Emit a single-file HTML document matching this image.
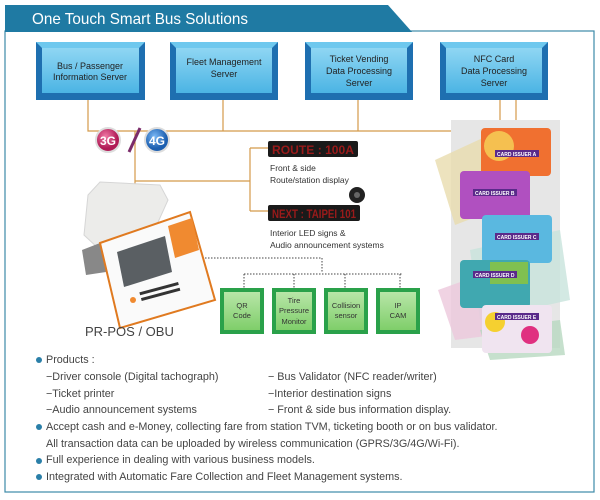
<!DOCTYPE html>
<html><head><meta charset="utf-8"><style>
body{margin:0;width:600px;height:500px;background:#fff;position:relative;overflow:hidden;font-family:"Liberation Sans",sans-serif}
.a{position:absolute}
.bul{position:absolute;left:36px;font-size:10.8px;color:#444;line-height:16.7px;white-space:pre}
</style></head><body>
<svg class="a" style="left:0;top:0" width="600" height="500">
<defs>
<linearGradient id="sb" x1="0" y1="0" x2="0" y2="1"><stop offset="0" stop-color="#8fd6f3"/><stop offset="1" stop-color="#4bb4e4"/></linearGradient>
<linearGradient id="gb" x1="0" y1="0" x2="0" y2="1"><stop offset="0" stop-color="#b8e6a8"/><stop offset="1" stop-color="#7fce6a"/></linearGradient>
<radialGradient id="c3" cx=".4" cy=".35"><stop offset="0" stop-color="#f07aa6"/><stop offset="1" stop-color="#b01a55"/></radialGradient>
<radialGradient id="c4" cx=".4" cy=".35"><stop offset="0" stop-color="#7ab8f5"/><stop offset="1" stop-color="#1d5fb0"/></radialGradient>
</defs>
<rect x="5" y="31" width="589" height="461" fill="none" stroke="#3d8aa8" stroke-width="1.2"/>
<polygon points="5,5 388,5 412,32 5,32" fill="#1f7aa3"/>
<text x="32" y="24" font-size="16" fill="#fff" font-family="Liberation Sans,sans-serif" textLength="216" lengthAdjust="spacingAndGlyphs">One Touch Smart Bus Solutions</text>
<g>
<rect x="36" y="42" width="109" height="58" fill="#1e6fb0"/><polygon points="36,42 145,42 139,48 42,48" fill="#6ec8ee"/><rect x="42" y="48" width="97" height="45" fill="url(#sb)"/>
<rect x="170" y="42" width="108" height="58" fill="#1e6fb0"/><polygon points="170,42 278,42 272,48 176,48" fill="#6ec8ee"/><rect x="176" y="48" width="96" height="45" fill="url(#sb)"/>
<rect x="305" y="42" width="108" height="58" fill="#1e6fb0"/><polygon points="305,42 413,42 407,48 311,48" fill="#6ec8ee"/><rect x="311" y="48" width="96" height="45" fill="url(#sb)"/>
<rect x="440" y="42" width="108" height="58" fill="#1e6fb0"/><polygon points="440,42 548,42 542,48 446,48" fill="#6ec8ee"/><rect x="446" y="48" width="96" height="45" fill="url(#sb)"/>
</g>
<g font-size="9" fill="#222" text-anchor="middle" font-family="Liberation Sans,sans-serif">
<text x="90" y="69">Bus / Passenger</text><text x="90" y="80">Information Server</text>
<text x="224" y="65">Fleet Management</text><text x="224" y="77">Server</text>
<text x="359" y="62">Ticket Vending</text><text x="359" y="74">Data Processing</text><text x="359" y="86">Server</text>
<text x="494" y="62">NFC Card</text><text x="494" y="74">Data Processing</text><text x="494" y="86">Server</text>
</g>
<g stroke="#d49a4a" stroke-width="1.2" fill="none">
<path d="M88,100V131H500V100M223,100V131M358,100V131"/>
<path d="M135,131V190"/>
<path d="M135,181H250M250,148V211M250,148H268M250,211H268"/>
<path d="M516,100V135"/>
</g>
<circle cx="108" cy="140" r="12" fill="url(#c3)" stroke="#ddd" stroke-width="2"/>
<text x="108" y="145" font-size="12" font-weight="bold" fill="#fff" text-anchor="middle">3G</text>
<path d="M129,152L140,128" stroke="#7b2c6a" stroke-width="3"/>
<circle cx="157" cy="140" r="12" fill="url(#c4)" stroke="#ddd" stroke-width="2"/>
<text x="157" y="145" font-size="12" font-weight="bold" fill="#fff" text-anchor="middle">4G</text>
<rect x="268" y="141" width="90" height="16" rx="2" fill="#1a1a1a"/>
<text x="272" y="154" font-size="12" font-weight="bold" fill="#9a1a1a" textLength="82" lengthAdjust="spacingAndGlyphs">ROUTE : 100A</text>
<rect x="268" y="205" width="92" height="16" rx="2" fill="#1a1a1a"/>
<text x="272" y="218" font-size="12" font-weight="bold" fill="#9a1a1a" textLength="84" lengthAdjust="spacingAndGlyphs">NEXT : TAIPEI 101</text>
<circle cx="357" cy="195" r="8" fill="#222"/><circle cx="357" cy="195" r="3" fill="#666"/>
<g font-size="8.5" fill="#333"><text x="270" y="171">Front &amp; side</text><text x="270" y="183">Route/station display</text>
<text x="270" y="236">Interior LED signs &amp;</text><text x="270" y="248">Audio announcement systems</text></g>
<!-- POS -->
<polygon points="88,195 100,182 160,185 168,200 150,240 100,250 84,235" fill="#ececea" stroke="#d6d6d6"/>
<polygon points="82,250 100,243 106,272 86,275" fill="#888"/>
<polygon points="100,243 190,212 215,300 120,328" fill="#fafafa" stroke="#e07a20" stroke-width="2"/>
<polygon points="117,252 165,236 172,272 124,287" fill="#5a5f63"/>
<polygon points="168,226 192,218 199,250 175,258" fill="#f08a30"/>
<circle cx="133" cy="300" r="3" fill="#f08a30"/>
<g fill="#333" transform="rotate(-15 160 292)"><rect x="140" y="287" width="40" height="3"/><rect x="140" y="293" width="40" height="3"/></g>
<text x="85" y="336" font-size="13" fill="#444">PR-POS / OBU</text>
<g stroke="#444" stroke-width="1" stroke-dasharray="1.5,1.5" fill="none">
<path d="M205,258H322V272M244,274H402M244,274V288M294,274V288M345,274V288M400,274V288"/>
</g>
<g>
<rect x="220" y="288" width="44" height="46" fill="#2aa14a"/><rect x="224" y="292" width="36" height="38" fill="url(#gb)"/>
<rect x="272" y="288" width="44" height="46" fill="#2aa14a"/><rect x="276" y="292" width="36" height="38" fill="url(#gb)"/>
<rect x="324" y="288" width="44" height="46" fill="#2aa14a"/><rect x="328" y="292" width="36" height="38" fill="url(#gb)"/>
<rect x="376" y="288" width="44" height="46" fill="#2aa14a"/><rect x="380" y="292" width="36" height="38" fill="url(#gb)"/>
</g>
<g font-size="7.5" fill="#333" text-anchor="middle">
<text x="242" y="308">QR</text><text x="242" y="318">Code</text>
<text x="294" y="303">Tire</text><text x="294" y="313">Pressure</text><text x="294" y="324">Monitor</text>
<text x="346" y="308">Collision</text><text x="346" y="318">sensor</text>
<text x="398" y="308">IP</text><text x="398" y="318">CAM</text>
</g>
<rect x="451" y="120" width="109" height="228" fill="#e6e6e6"/>
<polygon points="435,160 500,130 520,200 455,225" fill="#e8dcae" opacity=".8"/>
<polygon points="470,250 560,230 570,300 480,320" fill="#c8e4dc" opacity=".8"/>
<polygon points="438,290 480,275 495,335 455,340" fill="#ecc8dc" opacity=".8"/>
<polygon points="480,330 560,320 565,355 490,360" fill="#b8d8c0" opacity=".8"/>
<rect x="481" y="128" width="70" height="48" rx="4" fill="#f07030"/><rect x="484" y="131" width="30" height="30" rx="15" fill="#f5c050"/>
<rect x="460" y="171" width="70" height="48" rx="4" fill="#b050c0"/>
<rect x="482" y="215" width="70" height="48" rx="4" fill="#5ab8e0"/>
<rect x="460" y="260" width="70" height="48" rx="4" fill="#40a8b0"/><rect x="490" y="262" width="38" height="22" fill="#80c050"/>
<rect x="482" y="305" width="70" height="48" rx="4" fill="#f0e4f0"/><circle cx="495" cy="322" r="10" fill="#f5d030"/><circle cx="530" cy="335" r="9" fill="#e03080"/>
<g font-size="5" font-weight="bold" fill="#fff">
<rect x="495" y="150" width="44" height="7" fill="#5a2a8a"/><text x="497" y="156">CARD ISSUER A</text>
<rect x="473" y="189" width="44" height="7" fill="#5a2a8a"/><text x="475" y="195">CARD ISSUER B</text>
<rect x="495" y="233" width="44" height="7" fill="#5a2a8a"/><text x="497" y="239">CARD ISSUER C</text>
<rect x="473" y="271" width="44" height="7" fill="#5a2a8a"/><text x="475" y="277">CARD ISSUER D</text>
<rect x="495" y="313" width="44" height="7" fill="#5a2a8a"/><text x="497" y="319">CARD ISSUER E</text>
</g>
<g fill="#2a7fa8"><circle cx="39" cy="360" r="3"/><circle cx="39" cy="427" r="3"/><circle cx="39" cy="461" r="3"/><circle cx="39" cy="477" r="3"/></g>
</svg>
<div class="bul" style="left:46px;top:352px">Products :</div>
<div class="bul" style="left:46px;top:369px">−Driver console (Digital tachograph)
−Ticket printer
−Audio announcement systems</div>
<div class="bul" style="left:268px;top:369px">− Bus Validator (NFC reader/writer)
−Interior destination signs
− Front &amp; side bus information display.</div>
<div class="bul" style="left:46px;top:419px">Accept cash and e-Money, collecting fare from station TVM, ticketing booth or on bus validator.
All transaction data can be uploaded by wireless communication (GPRS/3G/4G/Wi-Fi).
Full experience in dealing with various business models.
Integrated with Automatic Fare Collection and Fleet Management systems.</div>
</body></html>
